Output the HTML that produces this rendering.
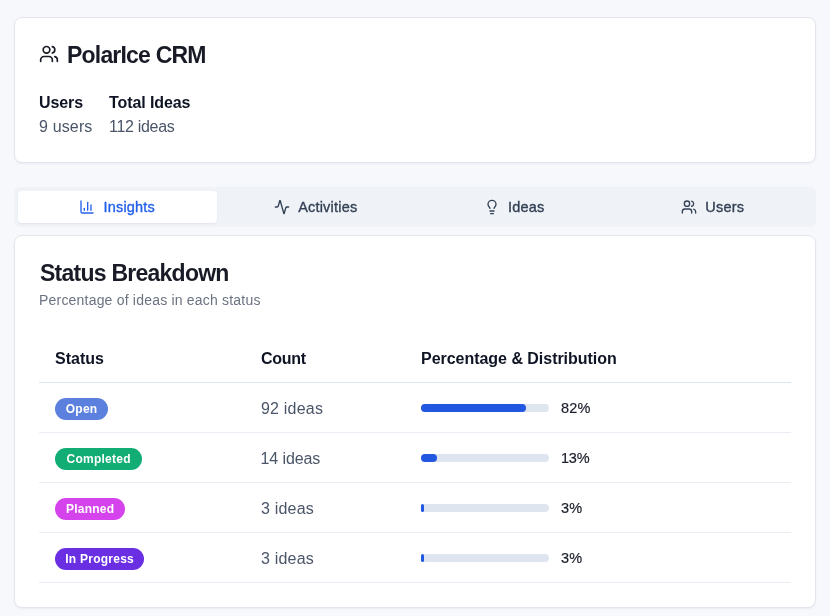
<!DOCTYPE html>
<html lang="en">
<head>
<meta charset="utf-8">
<title>PolarIce CRM</title>
<style>
*{box-sizing:border-box;margin:0;padding:0}
html,body{width:830px;height:616px;overflow:hidden}
body{background:#f7f8fc;font-family:"Liberation Sans",sans-serif;color:#171a26;position:relative}
.card{position:absolute;left:14px;width:802px;background:#fff;border:1px solid #e2e5ec;border-radius:8px;box-shadow:0 1px 2px rgba(15,23,42,.05)}
#c1{top:17px;height:146px}
#c2{top:235px;height:373px}
.abs{position:absolute;white-space:nowrap}
#root{position:absolute;left:0;top:0;width:830px;height:616px;will-change:transform}
.title{font-weight:700;font-size:23px;line-height:24px;color:#181b26}
.lbl{font-weight:700;font-size:16px;line-height:24px;color:#0f1424}
.val{font-size:16px;line-height:24px;color:#4a5568}
.tabs{position:absolute;left:14px;top:187px;width:802px;height:40px;background:#eff2f7;border-radius:6px}
.tab{position:absolute;top:4px;height:32px;width:198.5px;border-radius:4px;font-size:14.5px;letter-spacing:0.2px;line-height:20px;color:#334155;display:flex;align-items:center;justify-content:center}
.tab.on{background:#fff;color:#2360ea;box-shadow:0 1px 2px rgba(15,23,42,.06)}
.tab span{-webkit-text-stroke:0.35px currentColor}
.tab svg{width:16px;height:16px;margin-right:8px;flex:none}
svg{fill:none;stroke:currentColor;stroke-width:2;stroke-linecap:round;stroke-linejoin:round}
.desc{font-size:14px;line-height:20px;color:#6b7280}
.hline{position:absolute;left:39px;width:752px;height:1px;background:#e9edf4}
.hline.hd{background:#dde5f0}
.th{font-weight:700;font-size:16px;line-height:24px;color:#0f1424}
.td{font-size:16px;line-height:24px;color:#4a5568}
.badge{position:absolute;left:55px;height:22px;border-radius:11px;color:#fff;font-weight:700;font-size:12px;line-height:22px;text-align:center;white-space:nowrap;letter-spacing:0.25px;padding-left:0.25px}
.bar{position:absolute;left:421px;width:128px;height:8px;border-radius:4px;background:#dfe5ef}
.bar i{display:block;height:8px;border-radius:4px;background:#2257e2}
.pct{font-size:14.5px;letter-spacing:0.2px;-webkit-text-stroke:0.2px currentColor;line-height:20px;color:#1b1f2b}
</style>
</head>
<body>
<div id="root">
<div class="card" id="c1"></div>
<svg class="abs" style="left:39px;top:44px;width:20px;height:20px;color:#181b26" viewBox="0 0 24 24"><path d="M16 21v-2a4 4 0 0 0-4-4H6a4 4 0 0 0-4 4v2"/><circle cx="9" cy="7" r="4"/><path d="M22 21v-2a4 4 0 0 0-3-3.87"/><path d="M16 3.130a4 4 0 0 1 0 7.750"/></svg>
<div class="abs title" id="t1" style="left:67px;top:43px;letter-spacing:-0.8px">PolarIce CRM</div>
<div class="abs lbl" id="l1" style="left:39px;top:91px;letter-spacing:-0.1px">Users</div>
<div class="abs val" id="v1" style="left:39px;top:115px;letter-spacing:0.15px">9 users</div>
<div class="abs lbl" id="l2" style="left:109px;top:91px;letter-spacing:-0.1px">Total Ideas</div>
<div class="abs val" id="v2" style="left:109px;top:115px;letter-spacing:-0.3px">112 ideas</div>

<div class="tabs">
  <div class="tab on" style="left:4px"><svg viewBox="0 0 24 24"><path d="M3 3v16a2 2 0 0 0 2 2h16"/><path d="M18 17V9"/><path d="M13 17V5"/><path d="M8 17v-3"/></svg><span id="tb1">Insights</span></div>
  <div class="tab" style="left:202.5px"><svg viewBox="0 0 24 24"><path d="M22 12h-2.480a2 2 0 0 0-1.930 1.460l-2.350 8.360a.25.25 0 0 1-.48 0L9.240 2.180a.25.25 0 0 0-.48 0l-2.350 8.360A2 2 0 0 1 4.490 12H2"/></svg><span id="tb2">Activities</span></div>
  <div class="tab" style="left:401px"><svg viewBox="0 0 24 24"><path d="M15 14c.2-1 .7-1.700 1.500-2.500 1-.9 1.500-2.200 1.500-3.500A6 6 0 0 0 6 8c0 1 .2 2.200 1.500 3.500.7.700 1.300 1.500 1.500 2.500"/><path d="M9 18h6"/><path d="M10 22h4"/></svg><span id="tb3">Ideas</span></div>
  <div class="tab" style="left:599.5px"><svg viewBox="0 0 24 24"><path d="M16 21v-2a4 4 0 0 0-4-4H6a4 4 0 0 0-4 4v2"/><circle cx="9" cy="7" r="4"/><path d="M22 21v-2a4 4 0 0 0-3-3.870"/><path d="M16 3.130a4 4 0 0 1 0 7.750"/></svg><span id="tb4">Users</span></div>
</div>

<div class="card" id="c2"></div>
<div class="abs title" id="t2" style="left:40px;top:261px;letter-spacing:-0.75px">Status Breakdown</div>
<div class="abs desc" id="d2" style="left:39px;top:290px;letter-spacing:0.2px">Percentage of ideas in each status</div>

<div class="abs th" id="h1" style="left:55px;top:347px;letter-spacing:0px">Status</div>
<div class="abs th" id="h2" style="left:261px;top:347px;letter-spacing:-0.3px">Count</div>
<div class="abs th" id="h3" style="left:421px;top:347px;letter-spacing:-0.03px">Percentage &amp; Distribution</div>
<div class="hline hd" style="top:382px"></div>

<div class="badge" id="b1" style="top:398px;width:53px;background:#5b80de">Open</div>
<div class="abs td" id="n1" style="left:261px;top:397px;letter-spacing:0.2px">92 ideas</div>
<div class="bar" style="top:404px"><i style="width:82.14%"></i></div>
<div class="abs pct" id="p1" style="left:561px;top:398px">82%</div>
<div class="hline" style="top:432px"></div>

<div class="badge" id="b2" style="top:448px;width:87px;background:#11ad74">Completed</div>
<div class="abs td" id="n2" style="left:260.5px;top:447px;letter-spacing:-0.1px">14 ideas</div>
<div class="bar" style="top:454px"><i style="width:12.5%"></i></div>
<div class="abs pct" id="p2" style="left:561px;top:448px;letter-spacing:-0.2px">13%</div>
<div class="hline" style="top:482px"></div>

<div class="badge" id="b3" style="top:498px;width:70px;background:#d443eb">Planned</div>
<div class="abs td" id="n3" style="left:261px;top:497px;letter-spacing:0.2px">3 ideas</div>
<div class="bar" style="top:504px"><i style="width:2.68%"></i></div>
<div class="abs pct" id="p3" style="left:561px;top:498px">3%</div>
<div class="hline" style="top:532px"></div>

<div class="badge" id="b4" style="top:548px;width:89px;background:#6b2fe3">In Progress</div>
<div class="abs td" id="n4" style="left:261px;top:547px;letter-spacing:0.2px">3 ideas</div>
<div class="bar" style="top:554px"><i style="width:2.68%"></i></div>
<div class="abs pct" id="p4" style="left:561px;top:548px">3%</div>
<div class="hline" style="top:582px"></div>
</div>
</body>
</html>
